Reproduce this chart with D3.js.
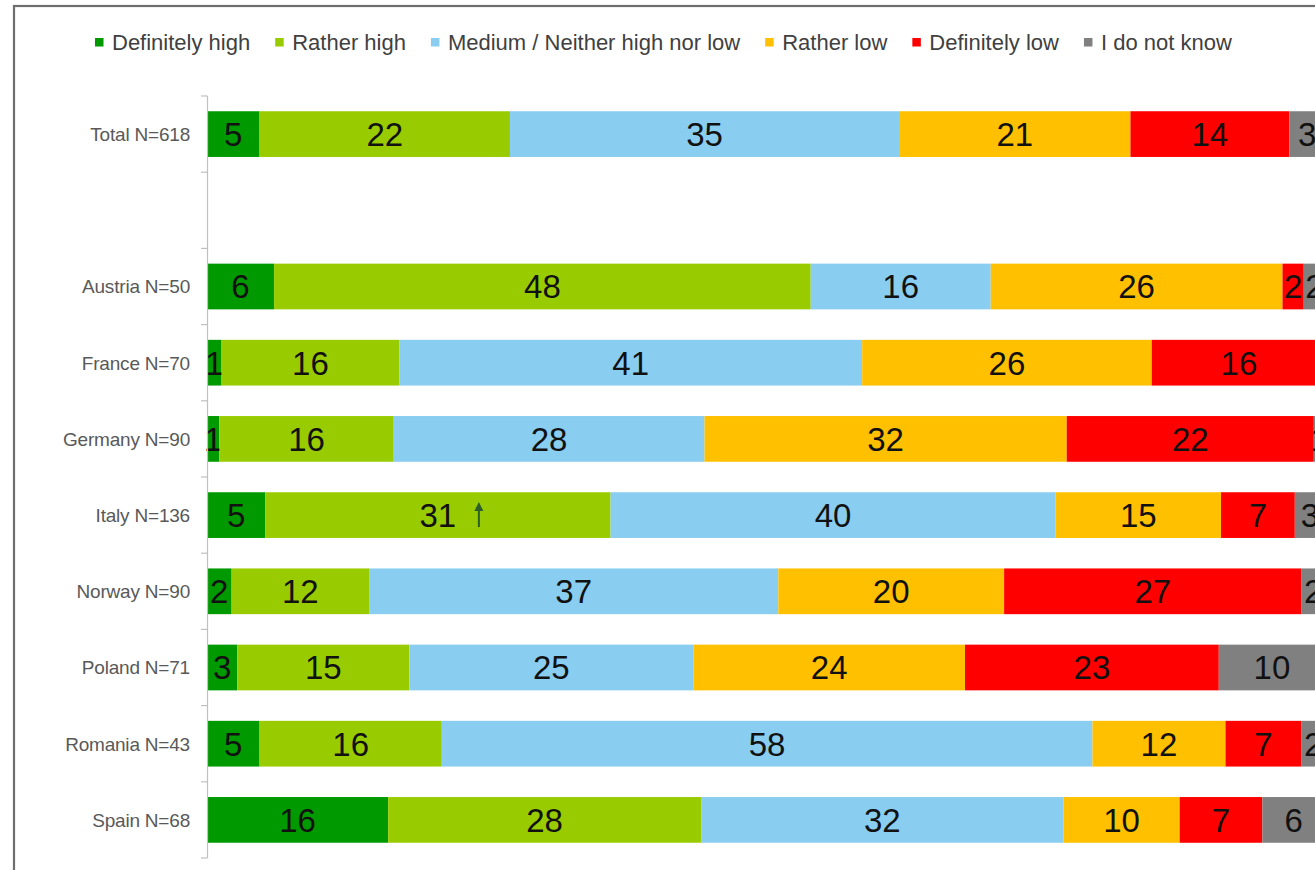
<!DOCTYPE html>
<html>
<head>
<meta charset="utf-8">
<script src="https://cdn.jsdelivr.net/npm/d3@7"></script>
<style>
  html, body { margin: 0; padding: 0; background: #ffffff; }
  svg { display: block; }
</style>
</head>
<body>
<svg id="chart" width="1315" height="870"></svg>
<script>
// ---------- DATA ----------
const categories = ["Total N=618", "", "Austria N=50", "France N=70", "Germany N=90", "Italy N=136",
                    "Norway N=90", "Poland N=71", "Romania N=43", "Spain N=68"];
const seriesNames = ["Definitely high", "Rather high", "Medium / Neither high nor low",
                     "Rather low", "Definitely low", "I do not know"];
const definitelyHigh = [4.7, 0, 6.0, 1.3, 1.1, 5.2, 2.2, 2.7, 4.7, 16.2];
const ratherHigh     = [22.4, 0, 48.0, 15.9, 15.6, 30.9, 12.3, 15.4, 16.3, 28.0];
const medium         = [34.8, 0, 16.1, 41.4, 27.8, 39.8, 36.6, 25.4, 58.2, 32.4];
const ratherLow      = [20.7, 0, 26.1, 25.9, 32.4, 14.8, 20.2, 24.3, 11.9, 10.4];
const definitelyLow  = [14.2, 0, 1.9, 15.6, 22.1, 6.6, 26.6, 22.7, 6.8, 7.4];
const doNotKnow      = [3.2, 0, 1.9, 0, 1.0, 2.7, 2.1, 9.5, 2.1, 5.6];
const seriesColors   = ["#009900", "#99cc00", "#89cdf1", "#ffc000", "#ff0000", "#808080"];
const xTicks = [0, 100];
// annotation: significant increase marker (Italy, Rather high)
const arrowCategory = "Italy N=136";
const arrowSeries = "Rather high";

// ---------- BUILD ----------
const seriesValues = [definitelyHigh, ratherHigh, medium, ratherLow, definitelyLow, doNotKnow];
const rows = categories.map((c, i) => {
  const r = { category: c };
  seriesNames.forEach((s, j) => { r[s] = seriesValues[j][i]; });
  return r;
});
const stacked = d3.stack().keys(seriesNames)(rows);

const svg = d3.select("#chart");
const fontFamily = "'Liberation Sans', Arial, sans-serif";

// frame
svg.append("rect")
  .attr("x", 14).attr("y", 6)
  .attr("width", 1400).attr("height", 900)
  .attr("fill", "none")
  .attr("stroke", "#6e6e6e")
  .attr("stroke-width", 2.2);

const x = d3.scaleLinear().domain(xTicks).range([207, 1325]);
const y = d3.scaleBand().domain(categories).range([96, 858])
  .paddingInner(0.4).paddingOuter(0.2);

// bars
const layer = svg.append("g").selectAll("g")
  .data(stacked).join("g")
  .attr("fill", (d, i) => seriesColors[i]);

layer.selectAll("rect")
  .data(d => d.map(p => ({ p, key: d.key })))
  .join("rect")
  .attr("x", d => x(d.p[0]))
  .attr("y", d => y(d.p.data.category))
  .attr("width", d => Math.max(0, x(d.p[1]) - x(d.p[0])))
  .attr("height", y.bandwidth());

// value labels
layer.selectAll("text")
  .data(d => d.map(p => ({ p, key: d.key })).filter(d => d.p.data[d.key] >= 0.5))
  .join("text")
  .attr("x", d => (x(d.p[0]) + x(d.p[1])) / 2)
  .attr("y", d => y(d.p.data.category) + y.bandwidth() / 2)
  .attr("dy", "0.36em")
  .attr("text-anchor", "middle")
  .attr("fill", "#111111")
  .attr("font-family", fontFamily)
  .attr("font-size", 33)
  .text(d => Math.round(d.p.data[d.key]));

// arrow annotation
{
  const sIdx = seriesNames.indexOf(arrowSeries);
  const cIdx = categories.indexOf(arrowCategory);
  const seg = stacked[sIdx][cIdx];
  const cx = (x(seg[0]) + x(seg[1])) / 2 + 41;
  const cy = y(arrowCategory) + y.bandwidth() / 2;
  const g = svg.append("g").attr("fill", "#2b5e2b").attr("stroke", "#2b5e2b");
  g.append("line").attr("x1", cx).attr("x2", cx).attr("y1", cy + 12).attr("y2", cy - 6)
    .attr("stroke-width", 2);
  g.append("path")
    .attr("d", `M${cx},${cy - 13} L${cx - 4.5},${cy - 4} L${cx + 4.5},${cy - 4} Z`)
    .attr("stroke", "none");
}

// y axis
const axisG = svg.append("g");
axisG.append("line")
  .attr("x1", 207.5).attr("x2", 207.5)
  .attr("y1", y.range()[0]).attr("y2", y.range()[1])
  .attr("stroke", "#c0c0c0").attr("stroke-width", 1.2);
const step = y.step();
d3.range(categories.length + 1).forEach(i => {
  const ty = y.range()[0] + i * step;
  axisG.append("line")
    .attr("x1", 201).attr("x2", 207.5)
    .attr("y1", ty).attr("y2", ty)
    .attr("stroke", "#c0c0c0").attr("stroke-width", 1.2);
});
axisG.selectAll("text.cat")
  .data(categories.filter(c => c !== ""))
  .join("text")
  .attr("class", "cat")
  .attr("x", 190)
  .attr("y", d => y(d) + y.bandwidth() / 2)
  .attr("dy", "0.36em")
  .attr("text-anchor", "end")
  .attr("fill", "#595959")
  .attr("font-family", fontFamily)
  .attr("font-size", 19)
  .attr("letter-spacing", -0.2)
  .text(d => d);

// legend
const legend = svg.append("g");
let lx = 95;
seriesNames.forEach((s, i) => {
  legend.append("rect")
    .attr("x", lx).attr("y", 38)
    .attr("width", 8.5).attr("height", 8.5)
    .attr("fill", seriesColors[i]);
  const t = legend.append("text")
    .attr("x", lx + 17).attr("y", 42.5)
    .attr("dy", "0.36em")
    .attr("fill", "#404040")
    .attr("font-family", fontFamily)
    .attr("font-size", 22)
    .text(s);
  lx += 17 + t.node().getComputedTextLength() + 25;
});
</script>
</body>
</html>
